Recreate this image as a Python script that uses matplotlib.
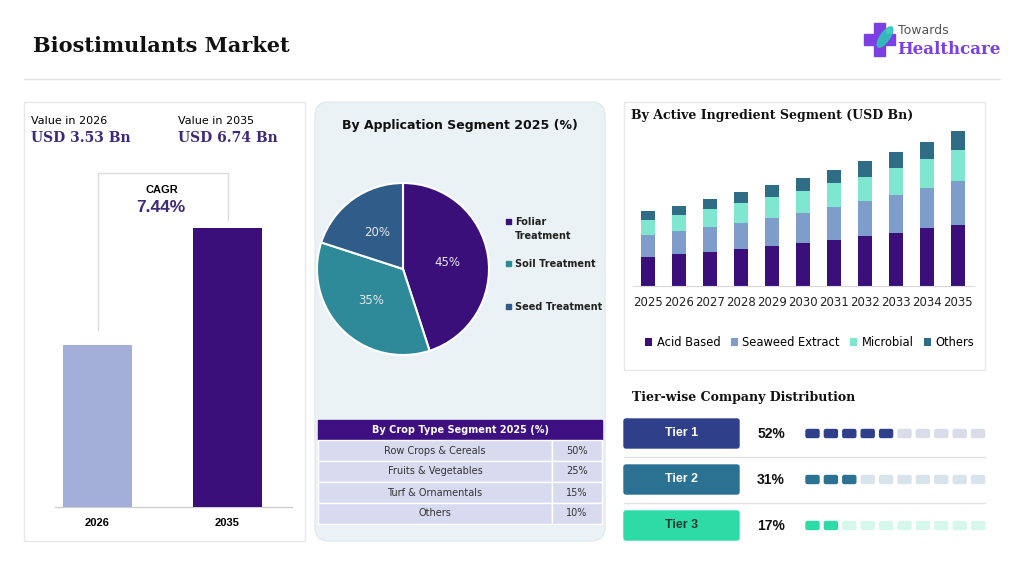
import numpy as np
import matplotlib
matplotlib.use("Agg")
import matplotlib.pyplot as plt
from matplotlib.patches import Rectangle, FancyBboxPatch, Ellipse

# ---- data ----
headline_years = ["2026", "2035"]
headline_values = [3.53, 6.74]
cagr_text = "7.44%"

app_labels = ["Foliar\nTreatment", "Soil Treatment", "Seed Treatment"]
app_shares = [45, 35, 20]

crop_labels = ["Row Crops & Cereals", "Fruits & Vegetables", "Turf & Ornamentals", "Others"]
crop_shares = [50, 25, 15, 10]

years = ["2025", "2026", "2027", "2028", "2029", "2030", "2031", "2032", "2033", "2034", "2035"]
acid_based = [1.28, 1.39, 1.49, 1.60, 1.74, 1.87, 2.02, 2.16, 2.32, 2.51, 2.67]
seaweed = [0.94, 1.00, 1.07, 1.13, 1.20, 1.32, 1.41, 1.52, 1.62, 1.75, 1.91]
microbial = [0.65, 0.70, 0.77, 0.86, 0.93, 0.94, 1.03, 1.07, 1.20, 1.26, 1.35]
others = [0.39, 0.41, 0.45, 0.48, 0.51, 0.55, 0.58, 0.67, 0.68, 0.73, 0.80]
ingredient_names = ["Acid Based", "Seaweed Extract", "Microbial", "Others"]

tiers = ["Tier 1", "Tier 2", "Tier 3"]
tier_shares = [52, 31, 17]

# ---- colours ----
PURPLE = "#3b0f7a"
LIGHT_BAR = "#a3afd9"
ING_COLORS = ["#3b0f7a", "#7f9dcb", "#7fe6cf", "#2f6d86"]
PIE_COLORS = ["#3b0f7a", "#2e8a98", "#2f5c89"]
TIER_COLORS = ["#2f3f8a", "#2b7191", "#2ddba6"]
TIER_LIGHT = ["#dadcea", "#d7e4eb", "#d6f7ec"]

W, H = 1024, 576
fig = plt.figure(figsize=(W / 100, H / 100), dpi=100)
fig.patch.set_facecolor("white")

bg = fig.add_axes([0, 0, 1, 1], zorder=0)
bg.set_xlim(0, W)
bg.set_ylim(H, 0)
bg.axis("off")


def px_ax(x0, y0, x1, y1):
    a = fig.add_axes([x0 / W, 1 - y1 / H, (x1 - x0) / W, (y1 - y0) / H], zorder=2)
    a.set_facecolor("none")
    return a


SERIF = "DejaVu Serif"
SANS = "Liberation Sans"

# header
bg.text(33, 46, "Biostimulants Market", fontsize=15, fontweight="bold", family=SERIF,
        va="center", ha="left", color="#111111")
bg.plot([24, 1000], [79, 79], color="#e2e2e2", lw=1)

# logo
bg.add_patch(Rectangle((874, 23), 11, 33, color="#7b3fe4"))
bg.add_patch(Rectangle((864, 34), 31, 11, color="#7b3fe4"))
bg.add_patch(Ellipse((885, 37), 9, 24, angle=35, color="#2ec4b6", alpha=0.9))
bg.text(898, 30, "Towards", fontsize=9, family="DejaVu Sans", color="#555555", va="center")
bg.text(897, 50, "Healthcare", fontsize=12, fontweight="bold", family=SERIF,
        color="#7b3fe4", va="center")

# ---- left panel ----
bg.add_patch(Rectangle((24, 102), 281, 439, facecolor="white", edgecolor="#e8e8e8", lw=1))
bg.text(31, 121, f"Value in {headline_years[0]}", fontsize=8, family="DejaVu Sans", va="center")
bg.text(31, 138, f"USD {headline_values[0]:.2f} Bn", fontsize=10, fontweight="bold",
        family=SERIF, color="#3e2a7a", va="center")
bg.text(178, 121, f"Value in {headline_years[1]}", fontsize=8, family="DejaVu Sans", va="center")
bg.text(178, 138, f"USD {headline_values[1]:.2f} Bn", fontsize=10, fontweight="bold",
        family=SERIF, color="#3e2a7a", va="center")

# CAGR bracket
bg.plot([98, 98, 228, 228], [330, 173, 173, 220], color="#dcdcdc", lw=1)
bg.text(162, 190, "CAGR", fontsize=8, fontweight="bold", family=SANS, ha="center", va="center")
bg.text(161, 207, cagr_text, fontsize=12.5, fontweight="bold", family=SANS,
        color="#3e2a7a", ha="center", va="center")

ax1 = px_ax(32.5, 160, 292.5, 507)
lo = -0.91
ax1.bar(range(2), [v - lo for v in headline_values], bottom=lo, width=0.53,
        color=[LIGHT_BAR, PURPLE])
ax1.set_xlim(-0.5, 1.5)
ax1.set_ylim(lo, lo + (507 - 160) / 36.45)
ax1.axis("off")
bg.plot([55, 292], [507, 507], color="#d0d0d0", lw=1)
for i, y in enumerate(headline_years):
    bg.text(97.5 + 130 * i, 523, y, fontsize=8, fontweight="bold", family=SANS,
            ha="center", va="center")

# ---- middle panel ----
bg.add_patch(FancyBboxPatch((315, 102), 290, 439, boxstyle="round,pad=0,rounding_size=14",
                            facecolor="#ebf2f5", edgecolor="#e3eaee", lw=1))
bg.text(460, 126, "By Application Segment 2025 (%)", fontsize=9, fontweight="bold",
        family="DejaVu Sans", ha="center", va="center", color="#111111")

axp = px_ax(317, 183, 489, 355)
axp.pie(app_shares, colors=PIE_COLORS, startangle=90, counterclock=False,
        autopct="%d%%", pctdistance=0.52,
        textprops=dict(color="#e8e8f0", fontsize=8.5, family="DejaVu Sans"),
        wedgeprops=dict(edgecolor="white", linewidth=1.5))
axp.set_xlim(-1, 1)
axp.set_ylim(-1, 1)
axp.set_aspect("equal")

leg_y = [222, 264, 307]
for lab, c, y in zip(app_labels, PIE_COLORS, leg_y):
    bg.add_patch(Rectangle((506, y - 3), 5, 5, color=c))
    bg.text(515, y, lab.split("\n")[0], fontsize=7, fontweight="bold",
            family="DejaVu Sans", va="center", color="#222222")
    if "\n" in lab:
        bg.text(515, y + 14, lab.split("\n")[1], fontsize=7, fontweight="bold",
                family="DejaVu Sans", va="center", color="#222222")

# crop table
bg.add_patch(Rectangle((318, 420), 284, 20, color="#3d0f80"))
bg.text(460, 430, "By Crop Type Segment 2025 (%)", fontsize=7, fontweight="bold",
        family="DejaVu Sans", color="white", ha="center", va="center")
for i, (lab, s) in enumerate(zip(crop_labels, crop_shares)):
    y0 = 440 + 21 * i
    bg.add_patch(Rectangle((318, y0), 234, 21, facecolor="#d8dbef", edgecolor="white", lw=1))
    bg.add_patch(Rectangle((552, y0), 50, 21, facecolor="#d8dbef", edgecolor="white", lw=1))
    bg.text(435, y0 + 10.5, lab, fontsize=7, family="DejaVu Sans", color="#333333",
            ha="center", va="center")
    bg.text(577, y0 + 10.5, f"{s}%", fontsize=7, family="DejaVu Sans", color="#333333",
            ha="center", va="center")

# ---- right top panel ----
bg.add_patch(Rectangle((624, 102), 361, 268, facecolor="white", edgecolor="#e8e8e8", lw=1))
bg.text(631, 116, "By Active Ingredient Segment (USD Bn)", fontsize=9, fontweight="bold",
        family=SERIF, va="center", color="#111111")

ax2 = px_ax(632.5, 120, 973.5, 286)
x = np.arange(len(years))
bottom = np.zeros(len(years))
series = [acid_based, seaweed, microbial, others]
handles = []
for name, vals, c in zip(ingredient_names, series, ING_COLORS):
    h = ax2.bar(x, vals, bottom=bottom, width=0.42, color=c, label=name)
    handles.append(h)
    bottom += np.array(vals)
ax2.set_xlim(-0.5, len(years) - 0.5)
ax2.set_ylim(0, 166 * 0.0435)
for s in ["top", "right", "left"]:
    ax2.spines[s].set_visible(False)
ax2.spines["bottom"].set_color("#d9d9d9")
ax2.set_yticks([])
ax2.set_xticks(x)
ax2.set_xticklabels(years, fontsize=8.5, family="DejaVu Sans", color="#222222")
ax2.tick_params(axis="x", length=0, pad=7)
ax2.legend(handles=handles, loc="upper center", bbox_to_anchor=(0.52, -0.24), ncol=4,
           frameon=False, handlelength=0.6, handleheight=0.6,
           handletextpad=0.4, columnspacing=0.9, prop=dict(family="DejaVu Sans", size=8.3))

# ---- tier section ----
bg.text(632, 398, "Tier-wise Company Distribution", fontsize=9, fontweight="bold",
        family=SERIF, va="center", color="#111111")
row_y = [433.5, 479.5, 525.5]
for i, (t, s) in enumerate(zip(tiers, tier_shares)):
    cy = row_y[i]
    bg.add_patch(FancyBboxPatch((624, cy - 14.5), 115, 29, boxstyle="round,pad=0,rounding_size=2",
                                color=TIER_COLORS[i]))
    bg.text(681.5, cy, t, fontsize=9, fontweight="bold", family=SANS,
            color="white" if i < 2 else "#1d3d33", ha="center", va="center")
    bg.text(771, cy, f"{s}%", fontsize=10, fontweight="bold", family=SANS,
            color="#111111", ha="center", va="center")
    filled = int(round(s / 10))
    for k in range(10):
        c = TIER_COLORS[i] if k < filled else TIER_LIGHT[i]
        bg.add_patch(FancyBboxPatch((806 + 18.4 * k, cy - 4), 13, 8,
                                    boxstyle="round,pad=0,rounding_size=1.5", color=c))
    if i < 2:
        bg.plot([624, 985], [cy + 23.5, cy + 23.5], color="#e3e3e3", lw=1)

fig.savefig("out.png", dpi=100, facecolor="white")
